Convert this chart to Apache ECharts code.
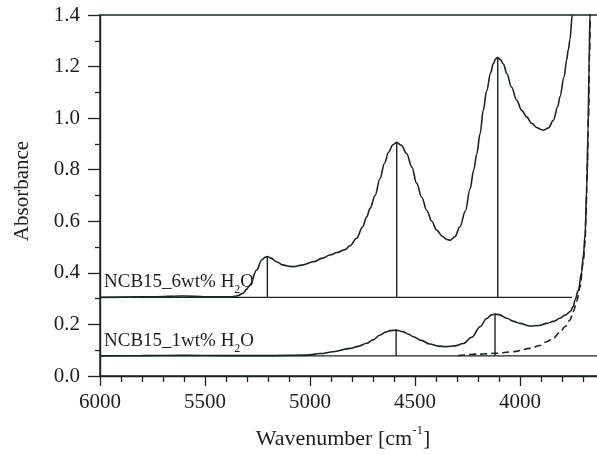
<!DOCTYPE html>
<html>
<head>
<meta charset="utf-8">
<script src="https://cdn.jsdelivr.net/npm/echarts@6/dist/echarts.min.js"></script>
<style>
html,body{margin:0;padding:0;background:#fff;}
#chart{width:597px;height:454px;}
</style>
</head>
<body>
<div id="chart"></div>
<script>
// ---- data (wavenumber in cm^-1, absorbance) ----
const wn6wt = [6000, 5800, 5600, 5450, 5380, 5349, 5320, 5302, 5286, 5254, 5230, 5215, 5203, 5185, 5159, 5130, 5095, 5079, 5040, 4984, 4940, 4905, 4870, 4833, 4810, 4778, 4750, 4730, 4714, 4690, 4667, 4645, 4627, 4605, 4587, 4565, 4540, 4515, 4492, 4468, 4444, 4420, 4397, 4370, 4350, 4333, 4310, 4286, 4260, 4238, 4220, 4206, 4190, 4175, 4159, 4140, 4127, 4116, 4106, 4095, 4079, 4063, 4040, 4016, 3992, 3968, 3945, 3921, 3900, 3889, 3865, 3841, 3820, 3810, 3790, 3778, 3770, 3762, 3751, 3740];
const abs6wt = [0.305, 0.307, 0.310, 0.307, 0.307, 0.310, 0.320, 0.336, 0.353, 0.411, 0.450, 0.460, 0.463, 0.457, 0.443, 0.431, 0.425, 0.424, 0.430, 0.443, 0.457, 0.469, 0.479, 0.490, 0.505, 0.534, 0.578, 0.617, 0.650, 0.700, 0.765, 0.825, 0.867, 0.897, 0.906, 0.895, 0.863, 0.810, 0.747, 0.693, 0.643, 0.600, 0.566, 0.542, 0.530, 0.526, 0.540, 0.579, 0.640, 0.725, 0.800, 0.860, 0.940, 1.030, 1.105, 1.175, 1.212, 1.230, 1.235, 1.228, 1.210, 1.173, 1.120, 1.070, 1.030, 1.005, 0.980, 0.964, 0.956, 0.953, 0.962, 0.992, 1.045, 1.083, 1.160, 1.225, 1.265, 1.305, 1.400, 1.520];

const wn1wt = [6000, 5800, 5600, 5400, 5200, 5016, 4950, 4889, 4810, 4770, 4730, 4700, 4667, 4640, 4619, 4590, 4560, 4530, 4508, 4470, 4429, 4390, 4349, 4310, 4270, 4230, 4190, 4160, 4135, 4119, 4100, 4063, 4030, 4000, 3952, 3910, 3873, 3840, 3810, 3785, 3762, 3746, 3738, 3722, 3707, 3698, 3690, 3682, 3676, 3671, 3667, 3664];
const abs1wt = [0.078, 0.079, 0.080, 0.079, 0.079, 0.081, 0.087, 0.094, 0.107, 0.115, 0.127, 0.140, 0.159, 0.170, 0.176, 0.178, 0.172, 0.162, 0.152, 0.138, 0.124, 0.116, 0.114, 0.117, 0.126, 0.150, 0.191, 0.222, 0.237, 0.240, 0.238, 0.224, 0.212, 0.204, 0.194, 0.196, 0.204, 0.212, 0.224, 0.236, 0.249, 0.270, 0.295, 0.333, 0.400, 0.470, 0.550, 0.730, 0.950, 1.200, 1.400, 1.550];

const wnBaseCurve = [4294, 4190, 4119, 4032, 3952, 3905, 3873, 3840, 3810, 3785, 3762, 3746, 3730, 3714, 3698, 3690, 3686, 3680, 3674, 3669, 3665];
const absBaseCurve = [0.079, 0.085, 0.088, 0.094, 0.107, 0.118, 0.133, 0.148, 0.170, 0.192, 0.217, 0.250, 0.290, 0.345, 0.450, 0.520, 0.620, 0.800, 1.000, 1.250, 1.450];

const baseline6wt = {from: 6000, to: 3752, value: 0.305};
const baseline1wt = {from: 6000, to: 3500, value: 0.078};

const peaks6wt = [5203, 4587, 4106];
const peakAbs6wt = [0.463, 0.906, 1.235];
const peaks1wt = [4590, 4119];
const peakAbs1wt = [0.178, 0.240];

const xTicks = [3500, 4000, 4500, 5000, 5500, 6000];
const yTicks = [0.0, 0.2, 0.4, 0.6, 0.8, 1.0, 1.2, 1.4];

const label6 = ['NCB15_6wt% H', '2', 'O'];
const label1 = ['NCB15_1wt% H', '2', 'O'];
const xTitle = ['Wavenumber [cm', '-1', ']'];
const yTitle = 'Absorbance';

// ---- build ----
const LINE = '#1b2323';
const TEXT = '#1e1e1e';
const FONT = '"Liberation Serif", "Times New Roman", serif';
const zip = (xs, ys) => xs.map((x, i) => [x, ys[i]]);

const series = [];
const curve = (data, dashed) => ({
  type: 'line', data, showSymbol: false, symbol: 'none', smooth: 0.35, smoothMonotone: 'x',
  lineStyle: {color: LINE, width: 1.6, type: dashed ? [7, 4] : 'solid'},
  clip: true, silent: true
});
series.push(curve(zip(wn6wt, abs6wt)));
series.push(curve(zip(wn1wt, abs1wt)));
series.push(curve(zip(wnBaseCurve, absBaseCurve), true));
[baseline6wt, baseline1wt].forEach(b => {
  series.push({type: 'line', data: [[b.from, b.value], [b.to, b.value]], showSymbol: false, symbol: 'none',
    lineStyle: {color: LINE, width: 1.4}, silent: true});
});
peaks6wt.forEach((p, i) => series.push({type: 'line', data: [[p, baseline6wt.value], [p, peakAbs6wt[i]]],
  showSymbol: false, symbol: 'none', lineStyle: {color: LINE, width: 1.4}, silent: true}));
peaks1wt.forEach((p, i) => series.push({type: 'line', data: [[p, baseline1wt.value], [p, peakAbs1wt[i]]],
  showSymbol: false, symbol: 'none', lineStyle: {color: LINE, width: 1.4}, silent: true}));

const richLabel = (parts, size, sub) => ({
  text: '{a|' + parts[0] + '}{' + (sub ? 'sb' : 'sp') + '|' + parts[1] + '}{a|' + parts[2] + '}',
  font: size + 'px ' + FONT,
  fill: TEXT,
  rich: {
    a: {fontSize: size, fontFamily: FONT, lineHeight: size + 8, verticalAlign: 'middle', fill: TEXT, color: TEXT},
    sb: {fontSize: Math.round(size * 0.65), fontFamily: FONT, lineHeight: Math.round(size * 0.65), verticalAlign: 'bottom', color: TEXT},
    sp: {fontSize: Math.round(size * 0.6), fontFamily: FONT, lineHeight: size * 0.9, verticalAlign: 'top', color: TEXT}
  }
});

const option = {
  animation: false,
  backgroundColor: '#fff',
  grid: {left: 100, top: 15, right: -28, bottom: 78, outerBoundsMode: 'none', containLabel: false,
    show: true, borderColor: LINE, borderWidth: 1.4, backgroundColor: 'transparent'},
  xAxis: {
    type: 'value', inverse: true, min: xTicks[0], max: xTicks[xTicks.length - 1], interval: 500,
    axisLine: {onZero: false, lineStyle: {color: LINE, width: 1.4}},
    axisTick: {show: true, inside: false, length: 10, lineStyle: {color: LINE, width: 1.3}},
    minorTick: {show: true, splitNumber: 5, length: 6, lineStyle: {color: LINE, width: 1.3}},
    splitLine: {show: false},
    axisLabel: {margin: 16, fontSize: 21, fontFamily: FONT, color: TEXT, formatter: v => String(v)}
  },
  yAxis: {
    type: 'value', min: yTicks[0], max: yTicks[yTicks.length - 1], interval: 0.2,
    axisLine: {show: true, onZero: false, lineStyle: {color: LINE, width: 1.4}},
    axisTick: {show: true, inside: false, length: 12, lineStyle: {color: LINE, width: 1.3}},
    minorTick: {show: true, splitNumber: 2, length: 5, lineStyle: {color: LINE, width: 1.3}},
    splitLine: {show: false},
    axisLabel: {margin: 20, fontSize: 21, fontFamily: FONT, color: TEXT, formatter: v => v.toFixed(1)}
  },
  graphic: [
    {type: 'text', x: 22, y: 191, rotation: Math.PI / 2, style: {text: yTitle, font: '21px ' + FONT, fill: TEXT, align: 'center', verticalAlign: 'middle'}},
    {type: 'text', x: 343, y: 439, style: Object.assign(richLabel(xTitle, 22, false), {align: 'center', verticalAlign: 'middle'})},
    {type: 'text', x: 104, y: 282, style: Object.assign(richLabel(label6, 19, true), {align: 'left', verticalAlign: 'middle'})},
    {type: 'text', x: 104, y: 341, style: Object.assign(richLabel(label1, 19, true), {align: 'left', verticalAlign: 'middle'})}
  ],
  series
};

const chart = echarts.init(document.getElementById('chart'), null, {renderer: 'canvas'});
chart.setOption(option);
</script>
</body>
</html>
